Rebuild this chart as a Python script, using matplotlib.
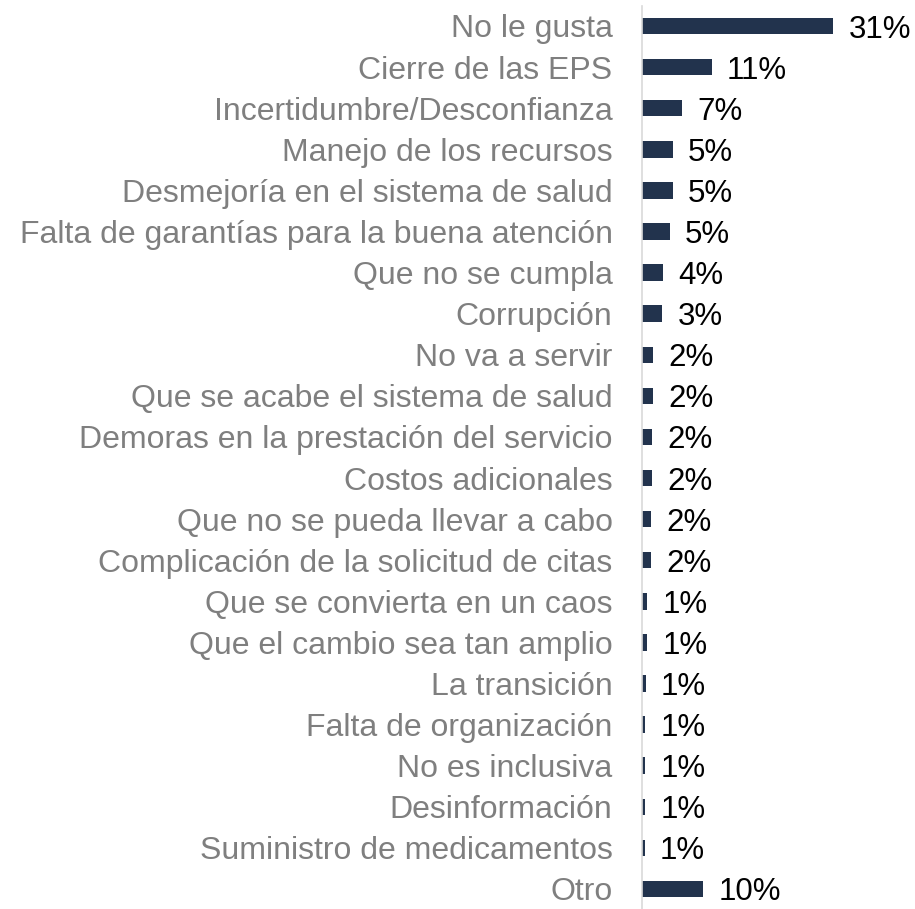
import matplotlib
matplotlib.use("Agg")
import matplotlib.pyplot as plt

categories = [
    "No le gusta",
    "Cierre de las EPS",
    "Incertidumbre/Desconfianza",
    "Manejo de los recursos",
    "Desmejoría en el sistema de salud",
    "Falta de garantías para la buena atención",
    "Que no se cumpla",
    "Corrupción",
    "No va a servir",
    "Que se acabe el sistema de salud",
    "Demoras en la prestación del servicio",
    "Costos adicionales",
    "Que no se pueda llevar a cabo",
    "Complicación de la solicitud de citas",
    "Que se convierta en un caos",
    "Que el cambio sea tan amplio",
    "La transición",
    "Falta de organización",
    "No es inclusiva",
    "Desinformación",
    "Suministro de medicamentos",
    "Otro",
]
values = [31.0, 11.3, 6.6, 5.0, 5.0, 4.5, 3.5, 3.3, 1.9, 1.8, 1.7, 1.7, 1.5, 1.5,
          0.9, 0.9, 0.65, 0.55, 0.55, 0.55, 0.5, 9.9]
value_labels = ["31%", "11%", "7%", "5%", "5%", "5%", "4%", "3%", "2%", "2%", "2%",
                "2%", "2%", "2%", "1%", "1%", "1%", "1%", "1%", "1%", "1%", "10%"]

plt.rcParams['font.family'] = ['Liberation Sans', 'DejaVu Sans']

W, H = 915, 909
fig = plt.figure(figsize=(W / 100, H / 100), dpi=100)
ax_left = 641.7 / W
ax_bottom = 0.0
ax_top = 1 - 6 / H
ax = fig.add_axes([ax_left, ax_bottom, 1 - ax_left, ax_top - ax_bottom])

pos = list(range(len(categories)))
bar_color = "#22334D"
ax.barh(pos, values, height=0.4, color=bar_color)

top_c, bot_c = 26.0, 889.0
row = (bot_c - top_c) / 21
ax.set_ylim(21 + (909 - bot_c) / row, -(top_c - 6) / row)
ax.set_xlim(0, (W - 641.7) / 6.18)

ax.set_yticks(pos)
ax.set_yticklabels(categories, fontsize=23, color="#7F7F7F")
ax.tick_params(axis="y", length=0, pad=21)
ax.set_xticks([])

for s in ["top", "right", "bottom"]:
    ax.spines[s].set_visible(False)
ax.spines["left"].set_color("#D9D9D9")
ax.spines["left"].set_linewidth(1.2)

for p, v, lab in zip(pos, values, value_labels):
    ax.annotate(lab, xy=(v, p), xytext=(11, 0), textcoords="offset points",
                va="center_baseline", ha="left", fontsize=22.5, color="#000000",
                annotation_clip=False)

fig.savefig("out.png", dpi=100)
